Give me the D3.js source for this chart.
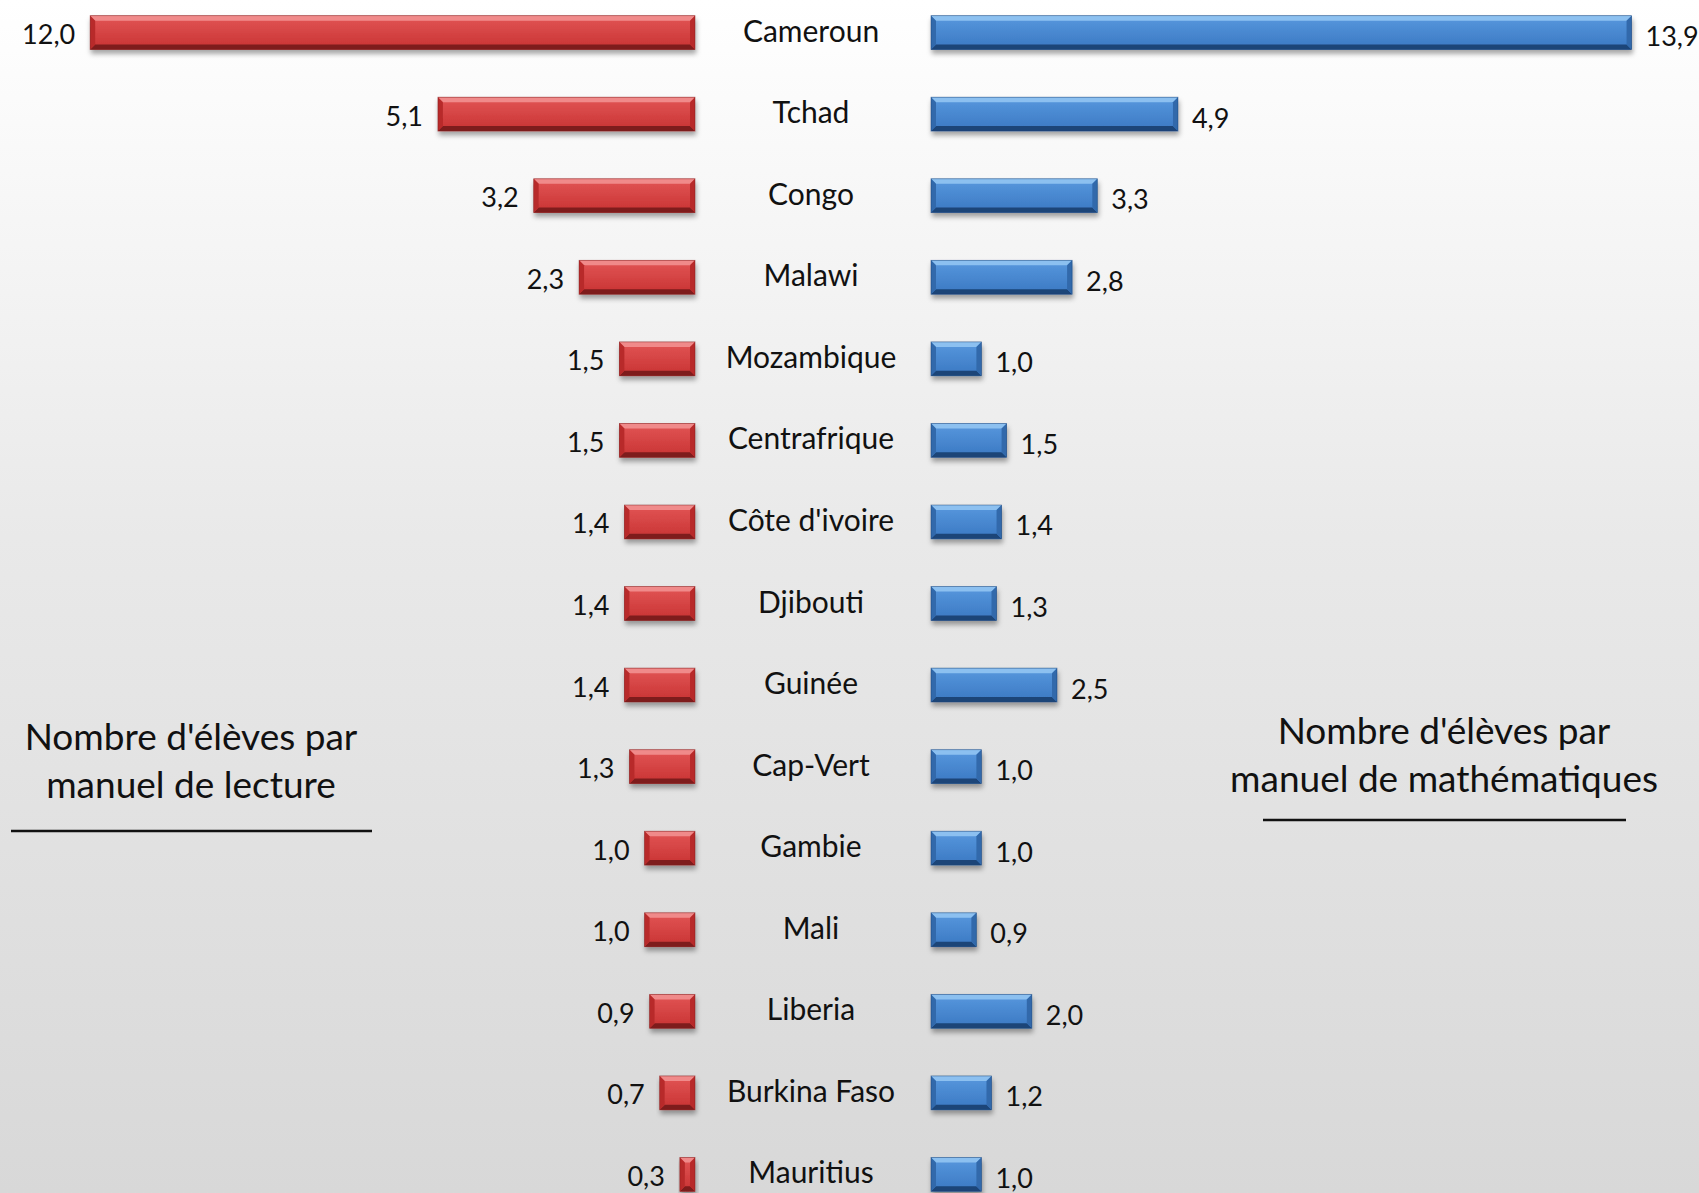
<!DOCTYPE html>
<html>
<head>
<meta charset="utf-8">
<script src="https://cdn.jsdelivr.net/npm/d3@7"></script>
<style>
  html, body { margin: 0; padding: 0; overflow: hidden; }
  svg { display: block; }
  text { font-family: Lato, "Open Sans", sans-serif; fill: #111; }
</style>
</head>
<body>
<svg id="chart"></svg>
<script>
// data
const countries = ['Cameroun', 'Tchad', 'Congo', 'Malawi', 'Mozambique', 'Centrafrique',
  "Côte d'ivoire", 'Djibouti', 'Guinée', 'Cap-Vert', 'Gambie', 'Mali', 'Liberia',
  'Burkina Faso', 'Mauritius'];
const lecture = [12.0, 5.1, 3.2, 2.3, 1.5, 1.5, 1.4, 1.4, 1.4, 1.3, 1.0, 1.0, 0.9, 0.7, 0.3];
const maths = [13.9, 4.9, 3.3, 2.8, 1.0, 1.5, 1.4, 1.3, 2.5, 1.0, 1.0, 0.9, 2.0, 1.2, 1.0];
const legendLecture = ["Nombre d'élèves par", 'manuel de lecture'];
const legendMaths = ["Nombre d'élèves par", 'manuel de mathématiques'];

const width = 1699, height = 1193;
const svg = d3.select('#chart').attr('width', width).attr('height', height);
const defs = svg.append('defs');

// background gradient
const bg = defs.append('linearGradient').attr('id', 'bg')
  .attr('x1', 0).attr('y1', 0).attr('x2', 0).attr('y2', 1);
bg.append('stop').attr('offset', '0%').attr('stop-color', '#ffffff');
bg.append('stop').attr('offset', '45%').attr('stop-color', '#e9e9e9');
bg.append('stop').attr('offset', '100%').attr('stop-color', '#d8d8d8');
svg.append('rect').attr('width', width).attr('height', height).attr('fill', 'url(#bg)');

const shadow = defs.append('filter').attr('id', 'shadow')
  .attr('x', '-10%').attr('y', '-30%').attr('width', '130%').attr('height', '190%');
shadow.append('feDropShadow').attr('dx', 1).attr('dy', 4).attr('stdDeviation', 2.5)
  .attr('flood-color', '#000').attr('flood-opacity', 0.35);

const palettes = {
  red: { top: '#f08a8a', face1: '#e25656', face2: '#c83232', side: '#b82c2c', bottom: '#7e1c1c' },
  blue: { top: '#8cc0f0', face1: '#5898de', face2: '#3a78c2', side: '#3169ab', bottom: '#1c4478' }
};
Object.entries(palettes).forEach(([k, p]) => {
  const g = defs.append('linearGradient').attr('id', 'face-' + k)
    .attr('x1', 0).attr('y1', 0).attr('x2', 0).attr('y2', 1);
  g.append('stop').attr('offset', '0%').attr('stop-color', p.face1);
  g.append('stop').attr('offset', '100%').attr('stop-color', p.face2);
});

// scales
const y = d3.scaleBand().domain(countries).range([-8, 1215]).paddingInner(0.585).paddingOuter(0.29);
const redRight = 695, blueLeft = 931;
const k = d3.scaleLinear().domain([0, 1]).range([0, 50.4]);
const xRed = d3.scaleLinear().domain([0, 14]).range([redRight, redRight - k(14)]);
const xBlue = d3.scaleLinear().domain([0, 14]).range([blueLeft, blueLeft + k(14)]);

const fmt = v => d3.format('.1f')(v).replace('.', ',');

function bevelBar(g, x0, x1, y0, h, p, kname) {
  const b = Math.min(5, (x1 - x0) / 3, h / 4);
  const grp = g.append('g').attr('filter', 'url(#shadow)');
  grp.append('rect').attr('x', x0).attr('y', y0).attr('width', x1 - x0).attr('height', h)
    .attr('fill', `url(#face-${kname})`);
  const poly = pts => grp.append('polygon').attr('points', pts.map(d => d.join(',')).join(' '));
  poly([[x0, y0], [x1, y0], [x1 - b, y0 + b], [x0 + b, y0 + b]]).attr('fill', p.top);
  poly([[x0, y0 + h], [x1, y0 + h], [x1 - b, y0 + h - b], [x0 + b, y0 + h - b]]).attr('fill', p.bottom);
  poly([[x0, y0], [x0 + b, y0 + b], [x0 + b, y0 + h - b], [x0, y0 + h]]).attr('fill', p.side);
  poly([[x1, y0], [x1 - b, y0 + b], [x1 - b, y0 + h - b], [x1, y0 + h]]).attr('fill', p.side);
  grp.append('rect').attr('x', x0).attr('y', y0).attr('width', x1 - x0).attr('height', h)
    .attr('fill', 'none').attr('stroke', p.bottom).attr('stroke-width', 0.8).attr('opacity', 0.6);
}

const rows = svg.append('g');
countries.forEach((c, i) => {
  const y0 = y(c), h = y.bandwidth(), cy = y0 + h / 2;
  bevelBar(rows, xRed(lecture[i]), xRed(0), y0, h, palettes.red, 'red');
  bevelBar(rows, xBlue(0), xBlue(maths[i]), y0, h, palettes.blue, 'blue');

  rows.append('text').attr('x', xRed(lecture[i]) - 15).attr('y', cy + 1)
    .attr('text-anchor', 'end').attr('dominant-baseline', 'central')
    .attr('font-size', 27).text(fmt(lecture[i]));
  rows.append('text').attr('x', xBlue(maths[i]) + 14).attr('y', cy + 3)
    .attr('text-anchor', 'start').attr('dominant-baseline', 'central')
    .attr('font-size', 27).text(fmt(maths[i]));
  rows.append('text').attr('x', 811).attr('y', cy - 3)
    .attr('text-anchor', 'middle').attr('dominant-baseline', 'central')
    .attr('font-size', 30).text(c);
});

// side legends
function legend(lines, cx, cy, x0, x1, ly) {
  const g = svg.append('g');
  lines.forEach((t, i) => {
    g.append('text').attr('x', cx).attr('y', cy + i * 48)
      .attr('text-anchor', 'middle').attr('dominant-baseline', 'central')
      .attr('font-size', 37).text(t);
  });
  g.append('line').attr('x1', x0).attr('x2', x1).attr('y1', ly).attr('y2', ly)
    .attr('stroke', '#111').attr('stroke-width', 2.5);
}
legend(legendLecture, 191, 735, 11, 372, 831);
legend(legendMaths, 1444, 729, 1263, 1626, 820);
</script>
</body>
</html>
